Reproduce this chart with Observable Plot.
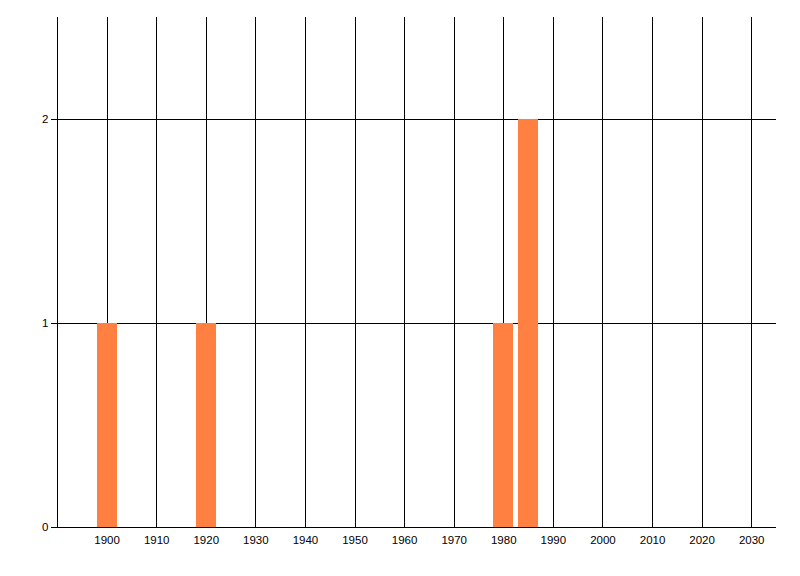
<!DOCTYPE html>
<html>
<head>
<meta charset="utf-8">
<script src="https://cdn.jsdelivr.net/npm/d3@7"></script>
<script src="https://cdn.jsdelivr.net/npm/@observablehq/plot@0.6"></script>
<style>
  html, body { margin: 0; padding: 0; background: #fff; }
</style>
</head>
<body>
<div id="chart"></div>
<script>
const years = [1900, 1920, 1980, 1985];
const counts = [1, 1, 1, 2];
const xTicks = [1900, 1910, 1920, 1930, 1940, 1950, 1960, 1970, 1980, 1990, 2000, 2010, 2020, 2030];
const yTicks = [0, 1, 2];

const xMin = 1890, xMax = 2035, yMax = 2.5;
const data = years.map((y, i) => ({year: y, count: counts[i]}));

const chart = Plot.plot({
  width: 800,
  height: 576,
  marginLeft: 57,
  marginRight: 24,
  marginTop: 17,
  marginBottom: 49,
  style: {fontFamily: "'Liberation Sans', Arial, sans-serif", fontSize: "12px", color: "#000", background: "#fff"},
  x: {domain: [xMin, xMax], axis: null, label: null},
  y: {domain: [0, yMax], axis: null, label: null},
  marks: [
    Plot.ruleX(xTicks, {y1: 0, y2: yMax, stroke: "#000", strokeWidth: 1, shapeRendering: "crispEdges"}),
    Plot.ruleX([xMin], {y1: 0, y2: yMax, stroke: "#000", strokeWidth: 1, shapeRendering: "crispEdges"}),
    Plot.ruleY(yTicks.filter(d => d > 0), {x1: xMin, x2: xMax, stroke: "#000", strokeWidth: 1, shapeRendering: "crispEdges"}),
    Plot.rectY(data, {x1: d => d.year - 2, x2: d => d.year + 2, y: "count", fill: "#FF8040", shapeRendering: "crispEdges"}),
    Plot.ruleY([0], {x1: xMin, x2: xMax, stroke: "#000", strokeWidth: 1, shapeRendering: "crispEdges"}),
    Plot.axisY(yTicks, {anchor: "left", label: null, tickSize: 6, tickPadding: 3, fontSize: 11.5, stroke: "#000", tickFormat: d => String(d), shapeRendering: "crispEdges"}),
    Plot.axisX(xTicks, {anchor: "bottom", label: null, tickSize: 0, tickPadding: 8, fontSize: 11.5, tickFormat: d => String(d)})
  ]
});
document.getElementById("chart").appendChild(chart);
</script>
</body>
</html>
